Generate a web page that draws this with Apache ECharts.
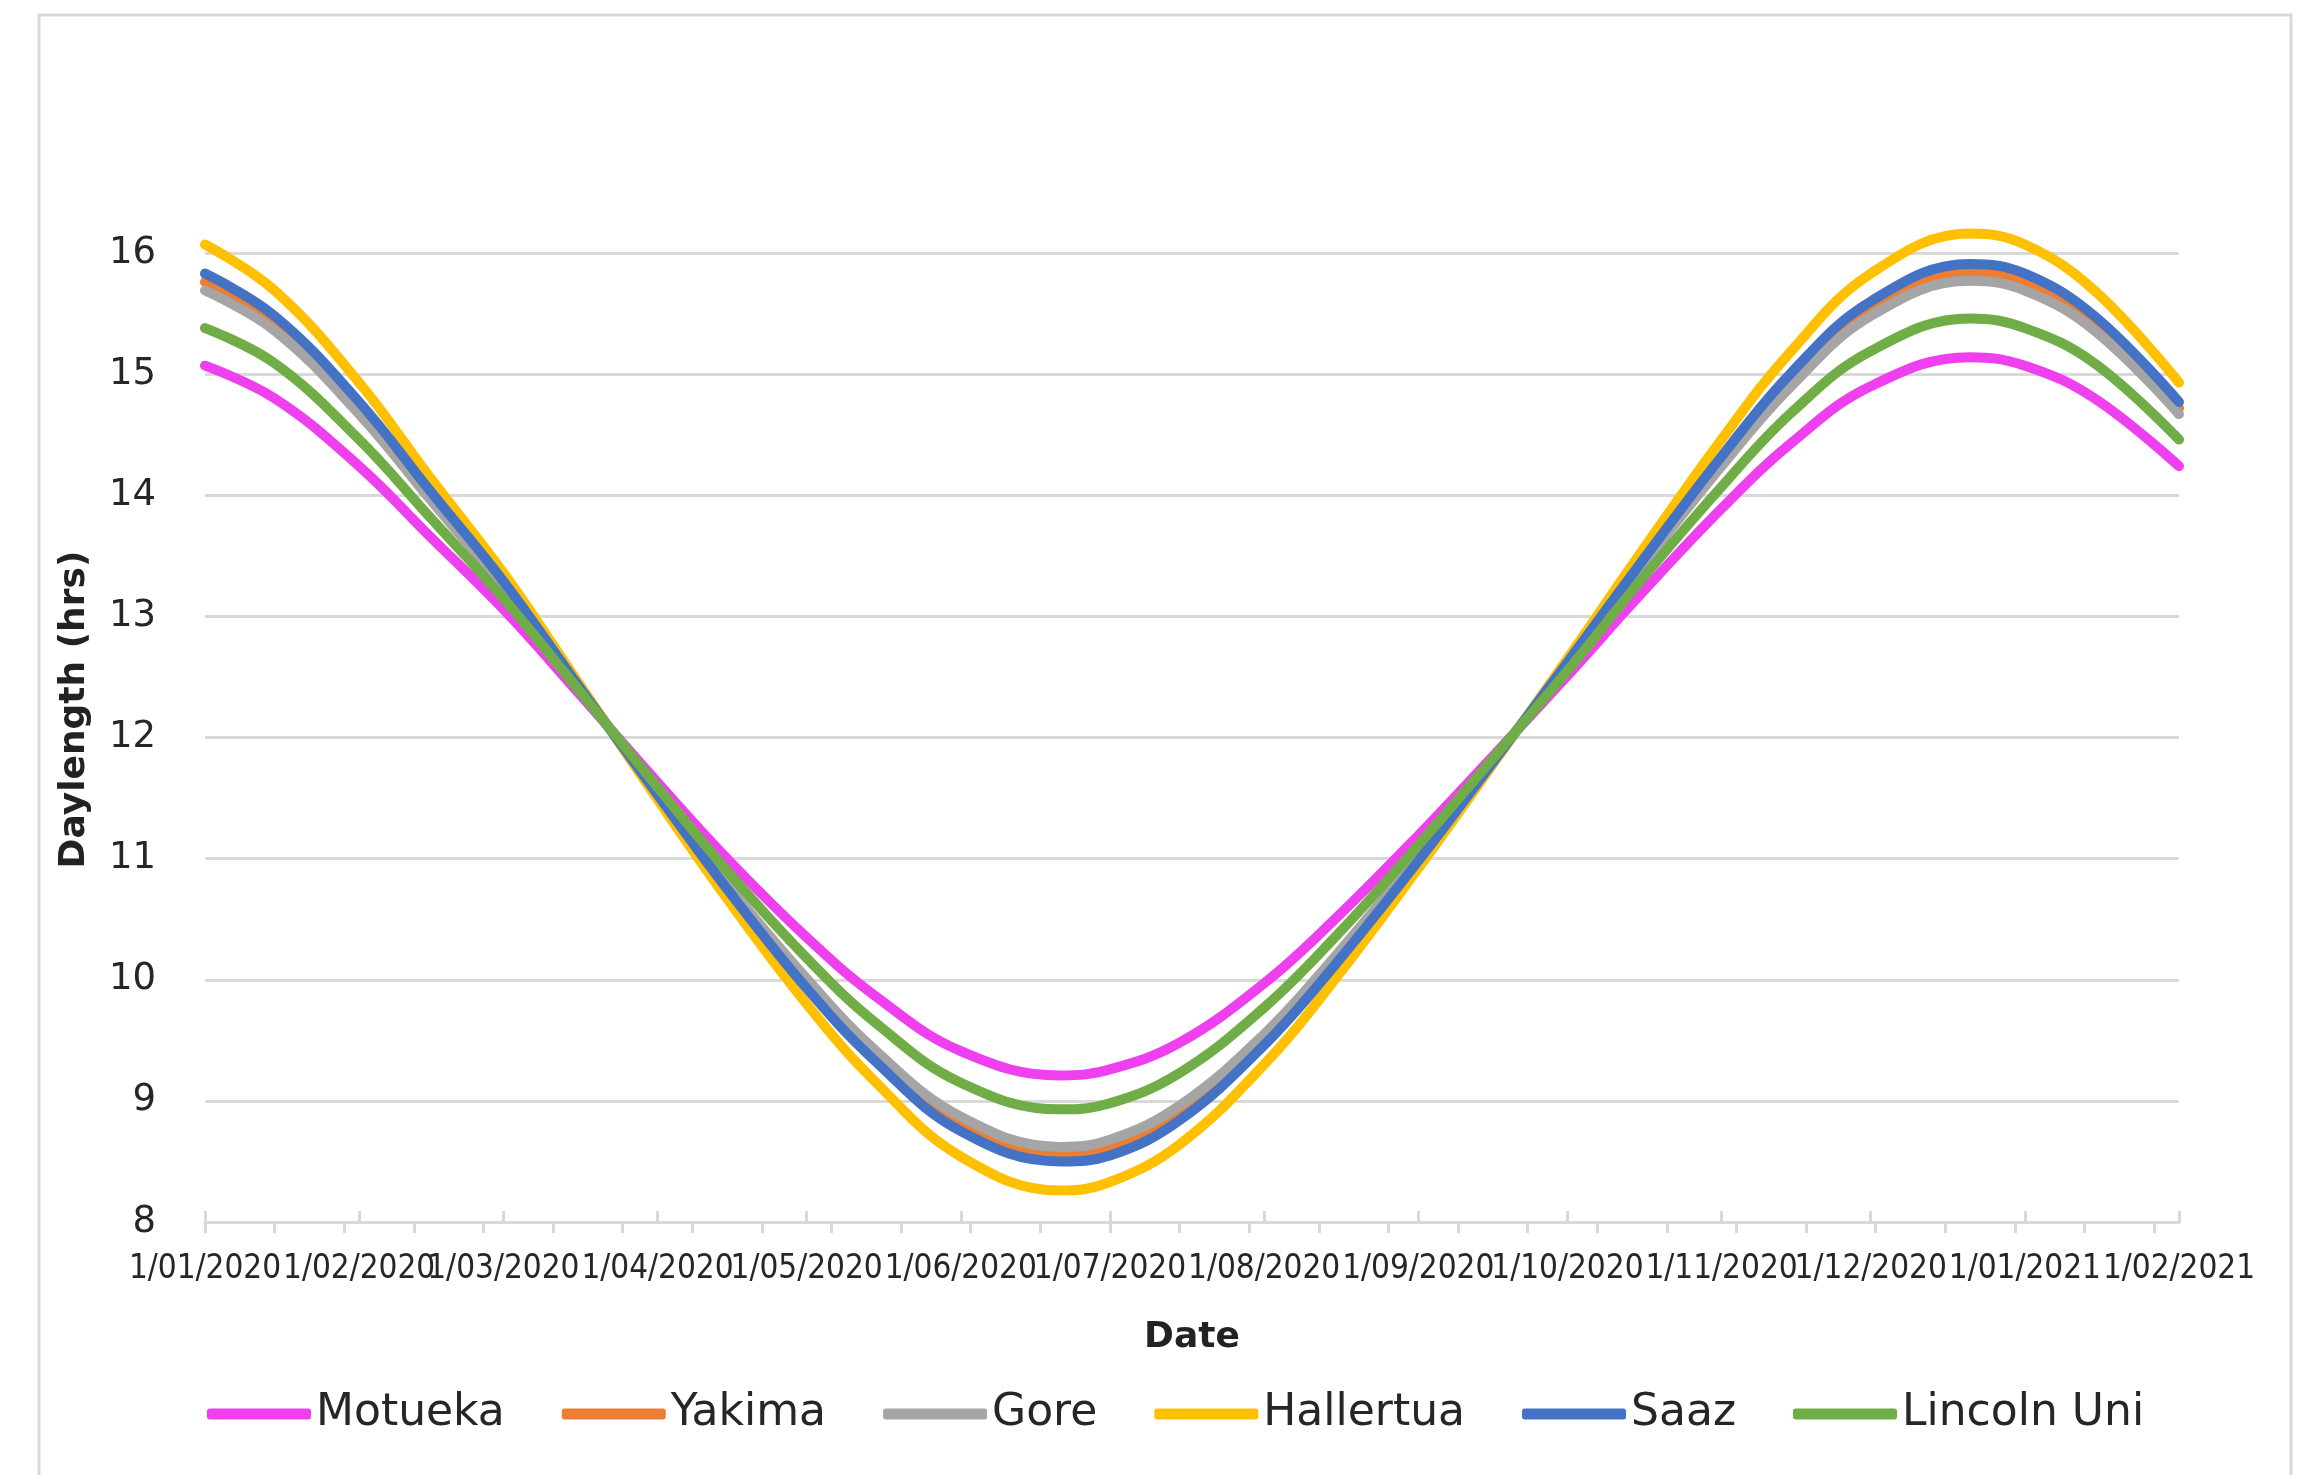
<!DOCTYPE html>
<html>
<head>
<meta charset="utf-8">
<script src="https://cdn.jsdelivr.net/npm/echarts@6/dist/echarts.min.js"></script>
<style>
html,body{margin:0;padding:0;background:#fff;}
#chart{width:2308px;height:1475px;}
</style>
</head>
<body>
<div id="chart"></div>
<script>
// ---- data ----
const dates = ['2020-01-01','2020-01-15','2020-02-01','2020-02-15','2020-03-01','2020-03-15','2020-04-01','2020-04-15',
  '2020-05-01','2020-05-15','2020-06-01','2020-06-21','2020-07-01','2020-07-15','2020-08-01','2020-08-15',
  '2020-09-01','2020-09-15','2020-10-01','2020-10-15','2020-11-01','2020-11-15','2020-12-01','2020-12-21',
  '2021-01-01','2021-01-15','2021-02-01'];
const motueka  = [15.07,14.80,14.24,13.67,13.06,12.42,11.63,11.00,10.35,9.86,9.41,9.21,9.26,9.48,9.97,10.49,11.19,11.80,12.51,13.15,13.89,14.43,14.90,15.14,15.07,14.80,14.24];
const yakima   = [15.76,15.42,14.72,14.01,13.27,12.49,11.54,10.77,9.97,9.36,8.81,8.56,8.62,8.90,9.51,10.14,11.00,11.75,12.61,13.38,14.28,14.96,15.54,15.84,15.76,15.42,14.72];
const gore     = [15.69,15.36,14.67,13.98,13.24,12.48,11.55,10.79,10.01,9.41,8.87,8.62,8.68,8.96,9.55,10.18,11.02,11.75,12.60,13.36,14.24,14.90,15.48,15.77,15.69,15.36,14.67];
const hallertua= [16.07,15.69,14.93,14.16,13.36,12.52,11.49,10.67,9.80,9.15,8.54,8.26,8.33,8.64,9.30,9.99,10.92,11.72,12.65,13.48,14.46,15.19,15.83,16.16,16.07,15.69,14.93];
const saaz     = [15.83,15.48,14.77,14.05,13.29,12.49,11.53,10.75,9.93,9.32,8.75,8.50,8.55,8.84,9.46,10.11,10.98,11.74,12.62,13.40,14.32,15.01,15.60,15.91,15.83,15.48,14.77];
const lincoln  = [15.38,15.09,14.46,13.83,13.15,12.45,11.59,10.90,10.18,9.64,9.15,8.93,8.98,9.23,9.77,10.34,11.11,11.78,12.55,13.26,14.07,14.68,15.19,15.46,15.38,15.09,14.46];
const seriesNames = ['Motueka','Yakima','Gore','Hallertua','Saaz','Lincoln Uni'];
const tickDates = ['2020-01-01','2020-02-01','2020-03-01','2020-04-01','2020-05-01','2020-06-01','2020-07-01',
  '2020-08-01','2020-09-01','2020-10-01','2020-11-01','2020-12-01','2021-01-01','2021-02-01'];
const tickLabels = ['1/01/2020','1/02/2020','1/03/2020','1/04/2020','1/05/2020','1/06/2020','1/07/2020',
  '1/08/2020','1/09/2020','1/10/2020','1/11/2020','1/12/2020','1/01/2021','1/02/2021'];
const minorStepDays = 14;
const yMin = 8, yMax = 16, yStep = 1;
// --------------

const colors = ['#EF40EF','#ED7D31','#A5A5A5','#FFC000','#4472C4','#70AD47'];
const FONT = 'DejaVu Sans';
const day0 = Date.parse('2020-01-01T00:00:00Z');
const dayOf = s => Math.round((Date.parse(s + 'T00:00:00Z') - day0) / 86400000);
const xs = dates.map(dayOf);
const majorVals = tickDates.map(dayOf);
const xMax = majorVals[majorVals.length - 1];
const minorVals = [];
for (let d = 0; d < xMax; d += minorStepDays) minorVals.push(d);
const labelMap = {};
majorVals.forEach((v, i) => labelMap[v] = tickLabels[i]);

const allData = [motueka, yakima, gore, hallertua, saaz, lincoln];
const series = allData.map((arr, i) => ({
  name: seriesNames[i],
  type: 'line',
  xAxisIndex: 0,
  data: arr.map((v, j) => [xs[j], v]),
  smooth: 0.4,
  symbol: 'none',
  clip: false,
  color: colors[i],
  lineStyle: { width: 10, color: colors[i], cap: 'round' },
  itemStyle: { color: colors[i] }
}));

const chart = echarts.init(document.getElementById('chart'), null, { renderer: 'canvas' });
chart.setOption({
  animation: false,
  backgroundColor: '#fff',
  graphic: [{
    type: 'rect', silent: true,
    shape: { x: 39, y: 15, width: 2252, height: 1500 },
    style: { fill: 'none', stroke: '#D9D9D9', lineWidth: 3 }
  }],
  grid: { left: 205, right: 129, top: 253, bottom: 253, containLabel: false },
  legend: {
    data: seriesNames,
    left: 202, top: 1387,
    icon: 'roundRect',
    itemWidth: 104, itemHeight: 11, itemGap: 57,
    textStyle: { fontFamily: FONT, fontSize: 44, color: '#262626' }
  },
  xAxis: [{
    type: 'value', min: 0, max: xMax, position: 'bottom',
    name: 'Date', nameLocation: 'middle', nameGap: 98,
    nameTextStyle: { fontFamily: FONT, fontSize: 36, fontWeight: 'bold', color: '#222' },
    axisLine: { show: true, lineStyle: { color: '#D9D9D9', width: 3 } },
    axisTick: { show: true, inside: true, length: 11, lineStyle: { color: '#D9D9D9', width: 3 }, customValues: majorVals },
    axisLabel: { customValues: majorVals, formatter: v => labelMap[v] || '', fontFamily: 'DejaVu Sans Condensed, DejaVu Sans', fontSize: 33, color: '#262626', margin: 31, hideOverlap: false },
    splitLine: { show: false }
  }, {
    type: 'value', min: 0, max: xMax, position: 'bottom', offset: 0,
    axisLine: { show: false },
    axisTick: { show: true, inside: false, length: 11, lineStyle: { color: '#D9D9D9', width: 3 }, customValues: minorVals },
    axisLabel: { show: false },
    splitLine: { show: false }
  }],
  yAxis: {
    type: 'value', min: yMin, max: yMax, interval: yStep,
    name: 'Daylength (hrs)', nameLocation: 'middle', nameGap: 112, nameRotate: 90,
    nameTextStyle: { fontFamily: FONT, fontSize: 36, fontWeight: 'bold', color: '#222', padding: [0, 0, 0, 56] },
    axisLine: { show: false }, axisTick: { show: false },
    axisLabel: { fontFamily: FONT, fontSize: 37, color: '#262626', margin: 49 },
    splitLine: { lineStyle: { color: '#D9D9D9', width: 3 } }
  },
  series: series
});
</script>
</body>
</html>
